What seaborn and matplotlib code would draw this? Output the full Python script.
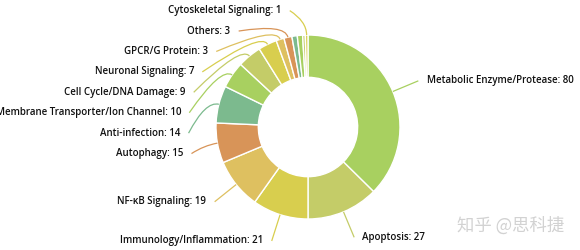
import numpy as np
import matplotlib
matplotlib.use("Agg")
import matplotlib.pyplot as plt
from matplotlib.path import Path
from matplotlib.patches import PathPatch
import seaborn as sns

# ---- data ----
categories = ["Metabolic Enzyme/Protease", "Apoptosis", "Immunology/Inflammation",
              "NF-κB Signaling", "Autophagy", "Anti-infection",
              "Membrane Transporter/Ion Channel", "Cell Cycle/DNA Damage",
              "Neuronal Signaling", "GPCR/G Protein", "Others",
              None, None, None,  # thin slices whose labels are hidden
              "Cytoskeletal Signaling"]
values = [80, 27, 21, 19, 15, 14, 10, 9, 7, 3, 3, 2, 2, 1, 1]
palette = ["#a8d060", "#c4cc68", "#d8ce4e", "#dec060", "#d89458", "#7cba8e"]
watermark = "知乎 @思科捷"

# ---- style / layout ----
sns.set_theme(style="white")
plt.rcParams['font.family'] = ['Open Sans', 'DejaVu Sans']

W, H = 580, 250
CX, CY, R = 308, 127, 92
fig = plt.figure(figsize=(W / 100, H / 100), dpi=100)
ax = fig.add_axes([0, 0, 1, 1])

colors = [palette[i % len(palette)] for i in range(len(values))]
ax.pie(values, colors=colors, startangle=90, counterclock=False, radius=1.0,
       wedgeprops=dict(width=0.46, edgecolor="white", linewidth=1.0))

total = float(sum(values))
cum = np.cumsum([0] + values)
mid = [(cum[i] + values[i] / 2) / total * 2 * np.pi for i in range(len(values))]

R1 = 1.3        # label anchor radius
RB = 1.28       # vertical semi-axis for shifted labels
GAP = 0.222     # min vertical spacing between labels
TOP = 1.265
GAPX = 0.09

items = []
for i, name in enumerate(categories):
    if name is None:
        continue
    d = np.array([np.sin(mid[i]), np.cos(mid[i])])
    nat = R1 * d
    items.append(dict(i=i, name=name, d=d, nat=nat, side=1 if d[0] >= 0 else -1,
                      y=nat[1]))

for side in (1, -1):
    group = sorted([it for it in items if it["side"] == side], key=lambda t: -t["nat"][1])
    prev = None
    for it in group:
        y = min(it["nat"][1], TOP)
        if prev is not None:
            y = min(y, prev - GAP)
        it["y"] = y
        prev = y

for it in items:
    i, d, side = it["i"], it["d"], it["side"]
    y = it["y"]
    if abs(y - it["nat"][1]) < 1e-6:
        xl = it["nat"][0]
    else:
        xl = side * R1 * np.sqrt(max(0.0, 1 - (y / RB) ** 2))
    p0 = d * 1.0
    p1 = d * 1.15
    p2 = np.array([xl, y])
    path = Path([p0, p1, p2], [Path.MOVETO, Path.CURVE3, Path.CURVE3])
    ax.add_patch(PathPatch(path, fill=False, edgecolor=colors[i], lw=0.9))
    ax.text(xl + side * GAPX, y, f"{it['name']}: {values[i]}",
            ha="left" if side > 0 else "right", va="center",
            fontsize=7, color="#111111", fontweight="semibold")

ax.set_xlim(-CX / R, (W - CX) / R)
ax.set_ylim(-(H - CY) / R, CY / R)
ax.set_aspect("equal")
ax.axis("off")

fig.text(564 / W, 1 - 226 / H, watermark, ha="right", va="center", fontsize=12.5,
         color="#d2d2d2", family=["Noto Sans CJK SC", "DejaVu Sans"])

fig.savefig("out.png", dpi=100, facecolor="white")
